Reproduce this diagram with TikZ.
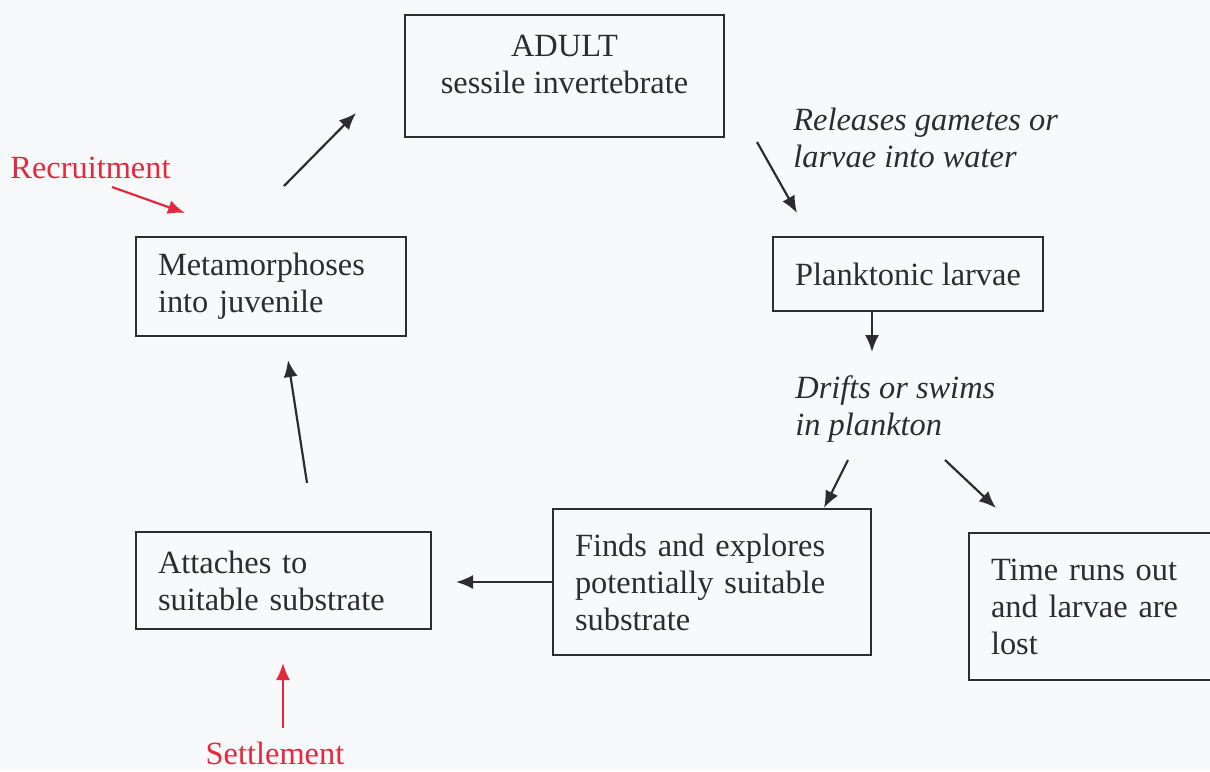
\documentclass[tikz,border=0pt]{standalone}
\usepackage{fontspec}
\setmainfont{Liberation Serif}
\usetikzlibrary{arrows.meta}
\definecolor{ink}{RGB}{45,45,48}
\definecolor{redink}{RGB}{228,40,62}
\definecolor{paper}{RGB}{248,249,251}
\begin{document}
\begin{tikzpicture}[x=0.5pt,y=-0.5pt,
  box/.style={draw=ink,line width=1pt,inner sep=0pt,rectangle},
  lbox/.style={box,align=left,inner xsep=11pt,text=ink,font=\fontsize{16.2}{18.5}\selectfont},
  lbl/.style={text=ink,font=\fontsize{16.2}{18.5}\selectfont,inner sep=0pt},
  ilbl/.style={lbl,align=left,font=\fontsize{16.2}{18.5}\selectfont\itshape},
  rlbl/.style={text=redink,font=\fontsize{16.2}{18.5}\selectfont,inner sep=0pt},
  arr/.style={draw=ink,line width=1.1pt,-{Latex[length=8.5pt,width=7pt]}},
  rarr/.style={draw=redink,line width=1.1pt,-{Latex[length=8.5pt,width=7pt]}}]
\fill[paper] (0,0) rectangle (1210,771);
\useasboundingbox (0,0) rectangle (1210,771);
\begin{scope}
\clip (0,0) rectangle (1210,771);
% boxes
\node[box,minimum width=159.5pt,minimum height=61pt] (adult) at (564.5,76) {};
\node[lbl,align=center] (adulttext) at (564.5,64) {ADULT\\sessile invertebrate};
\node[box,minimum width=135pt,minimum height=37pt,lbl,draw=ink,line width=1pt] (plank) at (908,274) {Planktonic larvae};
\node[lbox,text width=113pt,minimum height=49.5pt] (meta) at (271,286.5) {Metamorphoses\\into juvenile};
\node[lbox,text width=125.5pt,minimum height=48.5pt] (attach) at (283.5,580.5) {Attaches to\\suitable substrate};
\node[lbox,text width=137pt,minimum height=73pt] (finds) at (712,582) {Finds and explores\\potentially suitable\\substrate};
\node[lbox,text width=106pt,minimum height=73.5pt] (time) at (1097,606.5) {Time runs out\\and larvae are\\lost};
\end{scope}
% italic labels
\node[ilbl,anchor=west] (releases) at (793,138) {Releases gametes or\\larvae into water};
\node[ilbl,anchor=west] (drifts) at (795,409) {Drifts or swims\\in plankton};
% red labels
\node[rlbl,anchor=west] (recruit) at (10,168) {Recruitment};
\node[rlbl] (settle) at (275,753) {Settlement};
% connector end points
\coordinate (c1a) at (284,186);
\coordinate (c1b) at (356,113);
\coordinate (c2a) at (757,142);
\coordinate (c2b) at (797,213);
\coordinate (c3b) at (872,352);
\coordinate (c4a) at (848,460);
\coordinate (c4b) at (824,508);
\coordinate (c5a) at (945,460);
\coordinate (c5b) at (996,508);
\coordinate (c6b) at (456,582);
\coordinate (c7a) at (307,483);
\coordinate (c7b) at (288,360);
\coordinate (r1a) at (112,187);
\coordinate (r1b) at (185,213);
\coordinate (r2a) at (283,728);
\coordinate (r2b) at (283,663);
% connectors
\draw[arr] (c1a) -- (c1b);
\draw[arr] (c2a) -- (c2b);
\draw[arr] (plank.south -| c3b) -- (c3b);
\draw[arr] (c4a) -- (c4b);
\draw[arr] (c5a) -- (c5b);
\draw[arr] (finds.west) -- (c6b);
\draw[arr] (c7a) -- (c7b);
\draw[rarr] (r1a) -- (r1b);
\draw[rarr] (r2a) -- (r2b);
\end{tikzpicture}
\end{document}
